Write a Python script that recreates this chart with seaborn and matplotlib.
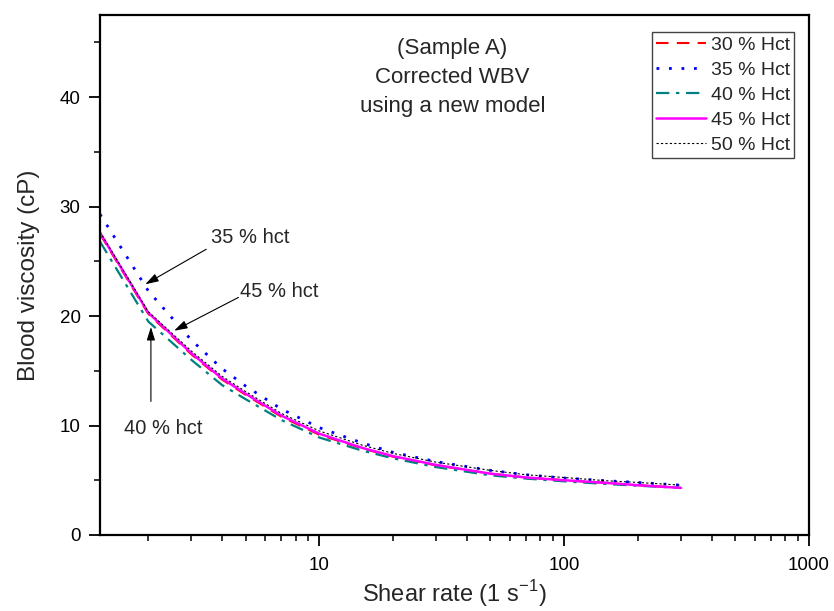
import numpy as np
import pandas as pd
import matplotlib
matplotlib.use("Agg")
import matplotlib.pyplot as plt
import seaborn as sns
from matplotlib.ticker import LogLocator, FixedLocator, FuncFormatter, MultipleLocator, NullFormatter

shear = [1.27, 2, 3, 4, 5, 7, 10, 15, 20, 30, 50, 70, 100, 150, 200, 300]
hct30 = [27.5, 20.2, 16.5, 14.2, 12.8, 10.8, 9.15, 7.9, 7.15, 6.35, 5.6, 5.25, 5.0, 4.75, 4.55, 4.3]
hct35 = [29.3, 22.3, 17.8, 15.2, 13.6, 11.5, 9.8, 8.4, 7.55, 6.7, 5.9, 5.5, 5.2, 4.95, 4.8, 4.55]
hct40 = [26.8, 19.5, 16.0, 13.7, 12.4, 10.5, 8.9, 7.7, 7.0, 6.2, 5.45, 5.15, 4.9, 4.65, 4.5, 4.3]
hct45 = [27.6, 20.3, 16.6, 14.3, 12.9, 10.9, 9.25, 7.95, 7.2, 6.4, 5.6, 5.25, 5.0, 4.75, 4.55, 4.3]
hct50 = [27.7, 20.4, 16.8, 14.5, 13.1, 11.1, 9.5, 8.2, 7.45, 6.65, 5.9, 5.5, 5.25, 4.95, 4.8, 4.55]

labels = ["30 % Hct", "35 % Hct", "40 % Hct", "45 % Hct", "50 % Hct"]

sns.set_style("ticks")
plt.rcParams['font.family'] = ['Liberation Sans', 'DejaVu Sans']

fig = plt.figure(figsize=(8.34, 6.11), dpi=100)
ax = fig.add_axes([0.1199, 0.1244, 0.970 - 0.1199, 0.9755 - 0.1244])

styles = [
    dict(color='#ff0000', linestyle=(0, (6, 4)), linewidth=1.5),
    dict(color='#0000ff', linestyle=(0, (1, 3.5)), linewidth=2.0),
    dict(color='#008080', linestyle=(0, (6, 3, 1.5, 3)), linewidth=1.6),
    dict(color='#ff00ff', linestyle='-', linewidth=1.8),
    dict(color='#000000', linestyle=(0, (2, 2)), linewidth=0.8),
]
series = [hct30, hct35, hct40, hct45, hct50]
for lab, vals, st in zip(labels, series, styles):
    df = pd.DataFrame({'x': shear, 'y': vals})
    sns.lineplot(data=df, x='x', y='y', ax=ax, label=lab, **st)

ax.set_xscale('log')
ax.set_xlim(1.27, 1000)
ax.set_ylim(0, 47.5)

ax.xaxis.set_major_locator(FixedLocator([10, 100, 1000]))
ax.xaxis.set_major_formatter(FuncFormatter(lambda v, p: f"{int(round(v))}"))
ax.xaxis.set_minor_locator(LogLocator(base=10, subs=np.arange(2, 10)))
ax.xaxis.set_minor_formatter(NullFormatter())
ax.yaxis.set_major_locator(FixedLocator([0, 10, 20, 30, 40]))
ax.yaxis.set_minor_locator(MultipleLocator(5))

ax.tick_params(axis='x', which='major', pad=8)
ax.tick_params(axis='y', which='major', pad=6)
ax.tick_params(axis='both', which='major', direction='out', length=8, width=1.3,
               labelsize=13.5, colors='black', top=False, right=False)
ax.tick_params(axis='both', which='minor', direction='out', length=4.5, width=1.3,
               top=False, right=False)
for sp in ax.spines.values():
    sp.set_linewidth(1.6)
    sp.set_color('black')
    sp.set_visible(True)

ax.set_xlabel(r"Shear rate (1 s$^{\mathregular{-1}}$)", fontsize=17, labelpad=3)
ax.set_ylabel("Blood viscosity (cP)", fontsize=17.5, labelpad=14)

ax.text(0.497, 0.955, "(Sample A)\nCorrected WBV\nusing a new model", transform=ax.transAxes,
        ha='center', va='top', fontsize=16, linespacing=1.5)

leg = ax.legend(loc='upper right', bbox_to_anchor=(0.979, 0.967), fontsize=14, frameon=True,
                fancybox=False, edgecolor='#444444', framealpha=1, handlelength=2.6,
                handletextpad=0.25, borderpad=0.2, labelspacing=0.38, borderaxespad=0)
leg.get_frame().set_linewidth(1.0)

arrow = dict(arrowstyle='-|>,head_length=0.8,head_width=0.25', color='black', lw=0.8,
             shrinkA=0, shrinkB=0)
ax.annotate('', xy=(1.944, 22.9), xytext=(3.45, 26.1), arrowprops=arrow)
ax.text(3.62, 27.2, "35 % hct", fontsize=14.5, ha='left', va='center')
ax.annotate('', xy=(2.55, 18.66), xytext=(4.67, 21.7), arrowprops=arrow)
ax.text(4.72, 22.2, "45 % hct", fontsize=14.5, ha='left', va='center')
ax.annotate('', xy=(2.05, 19.0), xytext=(2.05, 12.2), arrowprops=arrow)
ax.text(2.30, 9.74, "40 % hct", fontsize=14.5, ha='center', va='center')

fig.savefig("out.png", dpi=100)
